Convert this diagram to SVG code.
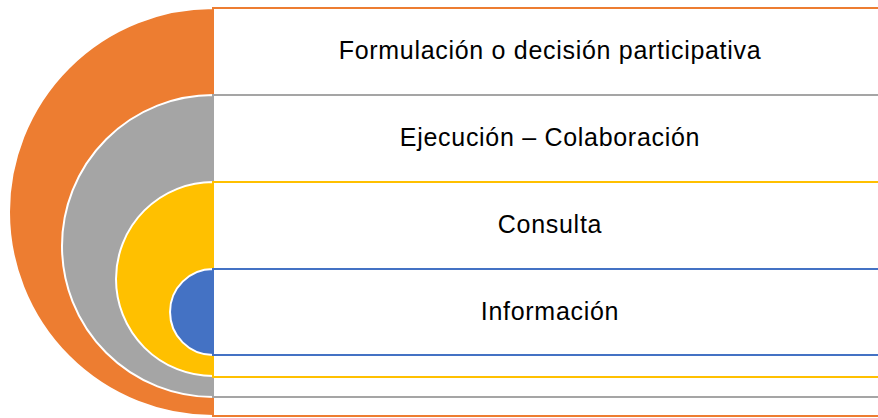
<svg xmlns="http://www.w3.org/2000/svg" width="878" height="418" viewBox="0 0 878 418">
<style>
.arc{stroke:#fff;stroke-width:2}
.box{fill:#fff;stroke-width:2}
.t{font-family:"Liberation Sans",Arial,sans-serif;font-size:25px;letter-spacing:0.7px;fill:#000;text-anchor:middle}
</style>
<rect width="878" height="418" fill="#fff"/>
<g id="n1">
<path class="arc" d="M213,8 A204,204 0 0 0 213,416 Z" fill="#ED7D31"/>
<rect class="box" x="213" y="8" width="680" height="408" stroke="#ED7D31"/>
<text class="t" x="550" y="59">Formulación o decisión participativa</text>
</g>
<g id="n2">
<path class="arc" d="M213,95 A151,151 0 0 0 213,397 Z" fill="#A5A5A5"/>
<rect class="box" x="213" y="95" width="680" height="302" stroke="#A5A5A5"/>
<text class="t" x="550" y="146">Ejecución – Colaboración</text>
</g>
<g id="n3">
<path class="arc" d="M213,182 A97,97 0 0 0 213,376 Z" fill="#FFC000"/>
<rect class="box" x="213" y="182" width="680" height="195" stroke="#FFC000"/>
<text class="t" x="550" y="233">Consulta</text>
</g>
<g id="n4">
<path class="arc" d="M213,269 A43,43 0 0 0 213,355 Z" fill="#4472C4"/>
<rect class="box" x="213" y="269" width="680" height="86" stroke="#4472C4"/>
<text class="t" x="550" y="320">Información</text>
</g>
<g id="connectors"></g>
</svg>
